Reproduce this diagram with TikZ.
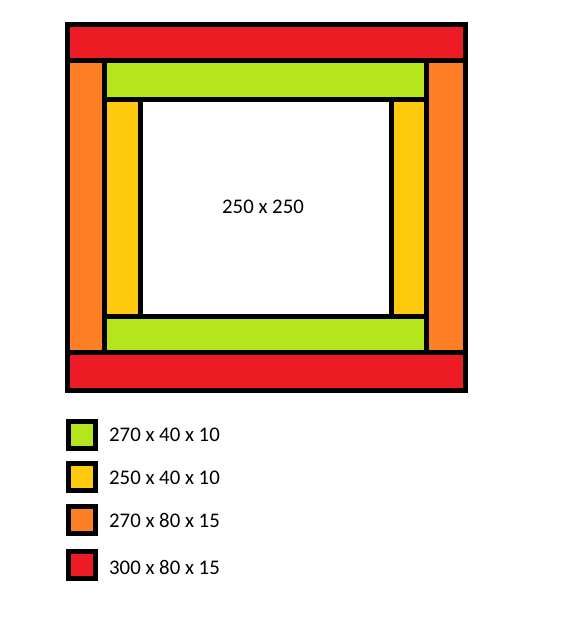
\documentclass[tikz,border=0pt]{standalone}
\usepackage{fontspec}
\setmainfont{Carlito}
\definecolor{pred}{HTML}{ED1C24}
\definecolor{porange}{HTML}{FF7F27}
\definecolor{pyellow}{HTML}{FFC90E}
\definecolor{pgreen}{HTML}{B5E61D}
\tikzset{
  block/.style={draw=black, line width=5pt, line join=miter},
  lbl/.style={inner sep=0pt, font=\fontsize{20.8}{24}\selectfont},
  legtext/.style={lbl, anchor=west},
}
\begin{document}
\begin{tikzpicture}[x=1pt,y=-1pt]
\useasboundingbox (0,0) rectangle (569,619);
% frame
\filldraw[block, fill=pred] (67.5,24.5) rectangle (465.5,60.5);
\filldraw[block, fill=pred] (67.5,352.5) rectangle (465.5,390.5);
\filldraw[block, fill=porange] (67.5,60.5) rectangle (104.5,352.5);
\filldraw[block, fill=porange] (426.5,60.5) rectangle (465.5,352.5);
\filldraw[block, fill=pgreen] (104.5,60.5) rectangle (426.5,99.5);
\filldraw[block, fill=pgreen] (104.5,316.5) rectangle (426.5,352.5);
\filldraw[block, fill=pyellow] (104.5,99.5) rectangle (140.5,316.5);
\filldraw[block, fill=pyellow] (391.5,99.5) rectangle (426.5,316.5);
\filldraw[block, fill=white] (140.5,99.5) rectangle (391.5,316.5);
\node[lbl] (center) at (263,207) {250 x 250};
% legend
\filldraw[block, fill=pgreen] (68.5,421) rectangle (95.5,448);
\filldraw[block, fill=pyellow] (68.5,463.5) rectangle (95.5,490.5);
\filldraw[block, fill=porange] (68.5,506.5) rectangle (95.5,533.5);
\filldraw[block, fill=pred] (68.5,551.5) rectangle (95.5,578.5);
\node[legtext] (l1) at (109,435) {270 x 40 x 10};
\node[legtext] (l2) at (109,478) {250 x 40 x 10};
\node[legtext] (l3) at (109,520) {270 x 80 x 15};
\node[legtext] (l4) at (109,567) {300 x 80 x 15};
\end{tikzpicture}
\end{document}
